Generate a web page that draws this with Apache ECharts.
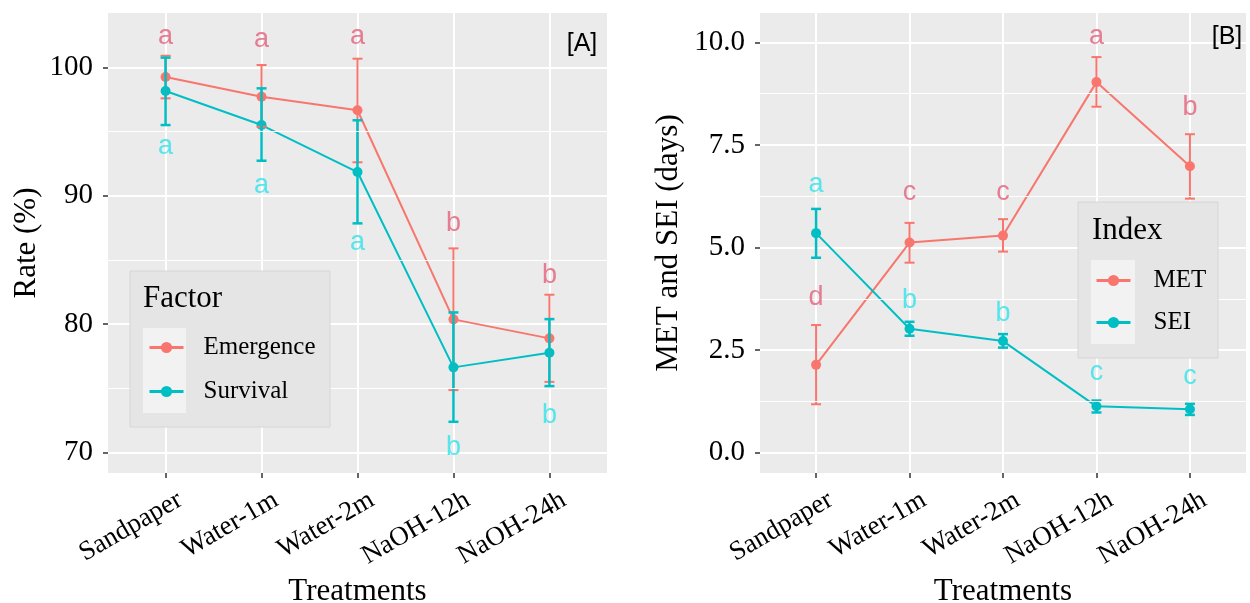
<!DOCTYPE html>
<html>
<head>
<meta charset="utf-8">
<script src="https://cdn.jsdelivr.net/npm/echarts@6/dist/echarts.min.js"></script>
<style>
  html, body { margin: 0; background: #fff; }
  #chart { width: 1250px; height: 603px; }
</style>
</head>
<body>
<div id="chart"></div>
<script>
// categories
const treatments = ['Sandpaper', 'Water-1m', 'Water-2m', 'NaOH-12h', 'NaOH-24h']

// panel A: rate (%)
const emergence = [99.24, 97.71, 96.65, 80.36, 78.88]
const emergenceLow = [97.58, 95.37, 92.60, 74.85, 75.49]
const emergenceHigh = [100.90, 100.18, 100.67, 85.89, 82.28]
const survival = [98.15, 95.50, 91.84, 76.62, 77.76]
const survivalLow = [95.50, 92.72, 87.84, 72.38, 75.16]
const survivalHigh = [100.75, 98.36, 95.87, 80.90, 80.38]
const emergenceLetters = ['a', 'a', 'a', 'b', 'b']
const emergenceLetterY = [102.36, 102.2, 102.36, 87.86, 83.81]
const survivalLetters = ['a', 'a', 'a', 'b', 'b']
const survivalLetterY = [93.79, 90.75, 86.31, 70.41, 72.9]
const rateTicks = [70, 80, 90, 100]
const rateMinor = [75, 85, 95]

// panel B: days
const met = [2.14, 5.12, 5.29, 9.03, 6.98]
const metLow = [1.18, 4.63, 4.90, 8.43, 6.19]
const metHigh = [3.11, 5.60, 5.69, 9.64, 7.76]
const sei = [5.35, 3.02, 2.72, 1.13, 1.06]
const seiLow = [4.75, 2.85, 2.56, 0.98, 0.92]
const seiHigh = [5.94, 3.19, 2.89, 1.27, 1.19]
const metLetters = ['d', 'c', 'c', 'a', 'b']
const metLetterY = [3.77, 6.35, 6.35, 10.15, 8.42]
const seiLetters = ['a', 'b', 'b', 'c', 'c']
const seiLetterY = [6.54, 3.71, 3.40, 1.95, 1.85]
const dayTicks = [0, 2.5, 5, 7.5, 10]
const dayMinor = [1.25, 3.75, 6.25, 8.75]

const SERIF = 'Liberation Serif'
const SANS = 'Liberation Sans'
const RED = '#F8766D'
const CYAN = '#00BFC4'
const RED_TXT = '#E5607A'
const CYAN_TXT = '#2FE3EA'

const idx = [0, 1, 2, 3, 4]

function xAxisFor(gridIndex) {
  return {
    type: 'value', gridIndex, min: -0.6, max: 4.6,
    name: 'Treatments', nameLocation: 'middle', nameGap: 96,
    nameTextStyle: { fontFamily: SERIF, fontSize: 31, color: '#000' },
    axisLine: { show: false, onZero: false },
    axisTick: { show: true, customValues: idx, length: 5, lineStyle: { color: '#333', width: 1.5 } },
    axisLabel: {
      customValues: idx, formatter: v => treatments[v], rotate: 30,
      align: 'right', verticalAlign: 'top', margin: 18, padding: [0, -9, 0, 0],
      fontFamily: SERIF, fontSize: 27, color: '#000'
    },
    splitLine: { show: true, lineStyle: { color: '#fff', width: 2 } }
  }
}

function yAxisFor(gridIndex, min, max, ticks, name, gap, fmt) {
  return {
    type: 'value', gridIndex, min, max,
    name, nameLocation: 'middle', nameGap: gap,
    nameTextStyle: { fontFamily: SERIF, fontSize: 31, color: '#000' },
    axisLine: { show: false, onZero: false },
    axisTick: { show: true, customValues: ticks, length: 5, lineStyle: { color: '#333', width: 1.5 } },
    axisLabel: { customValues: ticks, formatter: fmt, margin: 15, fontFamily: SERIF, fontSize: 29, color: '#000' },
    splitLine: { show: true, lineStyle: { color: '#fff', width: 2 } }
  }
}

// minor grid lines drawn as mark lines of an empty series
function minorGrid(axisIndex, values) {
  return {
    type: 'line', name: 'minor' + axisIndex, xAxisIndex: axisIndex, yAxisIndex: axisIndex,
    data: [], z: 1, silent: true,
    markLine: {
      silent: true, symbol: 'none', label: { show: false }, animation: false,
      lineStyle: { color: '#fff', width: 1, type: 'solid' },
      data: values.map(v => ({ yAxis: v }))
    }
  }
}

function lineSeries(name, axisIndex, values, color) {
  return {
    type: 'line', name, xAxisIndex: axisIndex, yAxisIndex: axisIndex,
    data: values.map((v, i) => [i, v]),
    symbol: 'circle', symbolSize: 10, z: 3,
    lineStyle: { color, width: 2 }, itemStyle: { color }
  }
}

function errorSeries(axisIndex, low, high, color, width) {
  return {
    type: 'custom', name: 'err', xAxisIndex: axisIndex, yAxisIndex: axisIndex, z: 4,
    data: low.map((v, i) => [i, v, high[i]]),
    encode: { x: 0, y: [1, 2] },
    renderItem: (params, api) => {
      const top = api.coord([api.value(0), api.value(2)])
      const bot = api.coord([api.value(0), api.value(1)])
      const style = { stroke: color, lineWidth: width }
      const w = 5
      return {
        type: 'group',
        children: [
          { type: 'line', shape: { x1: top[0], y1: top[1], x2: bot[0], y2: bot[1] }, style },
          { type: 'line', shape: { x1: top[0] - w, y1: top[1], x2: top[0] + w, y2: top[1] }, style },
          { type: 'line', shape: { x1: bot[0] - w, y1: bot[1], x2: bot[0] + w, y2: bot[1] }, style }
        ]
      }
    }
  }
}

function letterSeries(axisIndex, letters, ys, color) {
  return {
    type: 'scatter', name: 'letters', xAxisIndex: axisIndex, yAxisIndex: axisIndex, z: 5,
    data: letters.map((t, i) => [i, ys[i], t]),
    symbolSize: 1, itemStyle: { color: 'rgba(0,0,0,0)' }, silent: true,
    label: {
      show: true, position: 'inside', formatter: p => p.data[2],
      fontFamily: SANS, fontSize: 27, color
    }
  }
}

function legendFor(names, left, top, gap, pad) {
  return {
    data: names, orient: 'vertical', left, top, padding: 0, z: 20,
    itemWidth: 34, itemHeight: 14, itemGap: gap, selectedMode: false,
    lineStyle: { width: 3 },
    textStyle: { fontFamily: SERIF, fontSize: 25, color: '#000', padding: [0, 0, 0, pad] }
  }
}

const chart = echarts.init(document.getElementById('chart'))
chart.setOption({
  animation: false,
  backgroundColor: '#fff',
  grid: [
    { left: 108, top: 13, width: 499, height: 460, outerBoundsMode: 'none', containLabel: false, show: true, backgroundColor: '#EBEBEB', borderWidth: 0 },
    { left: 760, top: 13, width: 486, height: 460, outerBoundsMode: 'none', containLabel: false, show: true, backgroundColor: '#EBEBEB', borderWidth: 0 }
  ],
  xAxis: [xAxisFor(0), xAxisFor(1)],
  yAxis: [
    yAxisFor(0, 68.39, 104.23, rateTicks, 'Rate (%)', 66, v => String(v)),
    yAxisFor(1, -0.495, 10.714, dayTicks, 'MET and SEI (days)', 76, v => v.toFixed(1))
  ],
  legend: [
    legendFor(['Emergence', 'Survival'], 148, 335, 19, 15),
    legendFor(['MET', 'SEI'], 1095, 268, 17, 18)
  ],
  graphic: [
    { type: 'rect', shape: { x: 130, y: 271, width: 200, height: 156 }, style: { fill: '#E5E5E5', stroke: '#D6D6D6', lineWidth: 1 }, z: 10 },
    { type: 'rect', shape: { x: 143, y: 328, width: 43, height: 85 }, style: { fill: '#F2F2F2' }, z: 11 },
    { type: 'text', x: 143, y: 299, style: { text: 'Factor', font: '31px "Liberation Serif"', fill: '#000', verticalAlign: 'middle' }, z: 11 },
    { type: 'rect', shape: { x: 1078, y: 202, width: 140, height: 156 }, style: { fill: '#E5E5E5', stroke: '#D6D6D6', lineWidth: 1 }, z: 10 },
    { type: 'rect', shape: { x: 1091, y: 260, width: 44, height: 84 }, style: { fill: '#F2F2F2' }, z: 11 },
    { type: 'text', x: 1092, y: 231, style: { text: 'Index', font: '31px "Liberation Serif"', fill: '#000', verticalAlign: 'middle' }, z: 11 },
    { type: 'text', x: 582, y: 44, style: { text: '[A]', font: '25px "Liberation Sans"', fill: '#000', align: 'center', verticalAlign: 'middle' }, z: 11 },
    { type: 'text', x: 1227, y: 37, style: { text: '[B]', font: '25px "Liberation Sans"', fill: '#000', align: 'center', verticalAlign: 'middle' }, z: 11 }
  ],
  series: [
    minorGrid(0, rateMinor),
    minorGrid(1, dayMinor),
    lineSeries('Emergence', 0, emergence, RED),
    errorSeries(0, emergenceLow, emergenceHigh, RED, 2),
    lineSeries('Survival', 0, survival, CYAN),
    errorSeries(0, survivalLow, survivalHigh, CYAN, 2.5),
    letterSeries(0, emergenceLetters, emergenceLetterY, RED_TXT),
    letterSeries(0, survivalLetters, survivalLetterY, CYAN_TXT),
    lineSeries('MET', 1, met, RED),
    errorSeries(1, metLow, metHigh, RED, 2),
    lineSeries('SEI', 1, sei, CYAN),
    errorSeries(1, seiLow, seiHigh, CYAN, 2.5),
    letterSeries(1, metLetters, metLetterY, RED_TXT),
    letterSeries(1, seiLetters, seiLetterY, CYAN_TXT)
  ]
})
</script>
</body>
</html>
